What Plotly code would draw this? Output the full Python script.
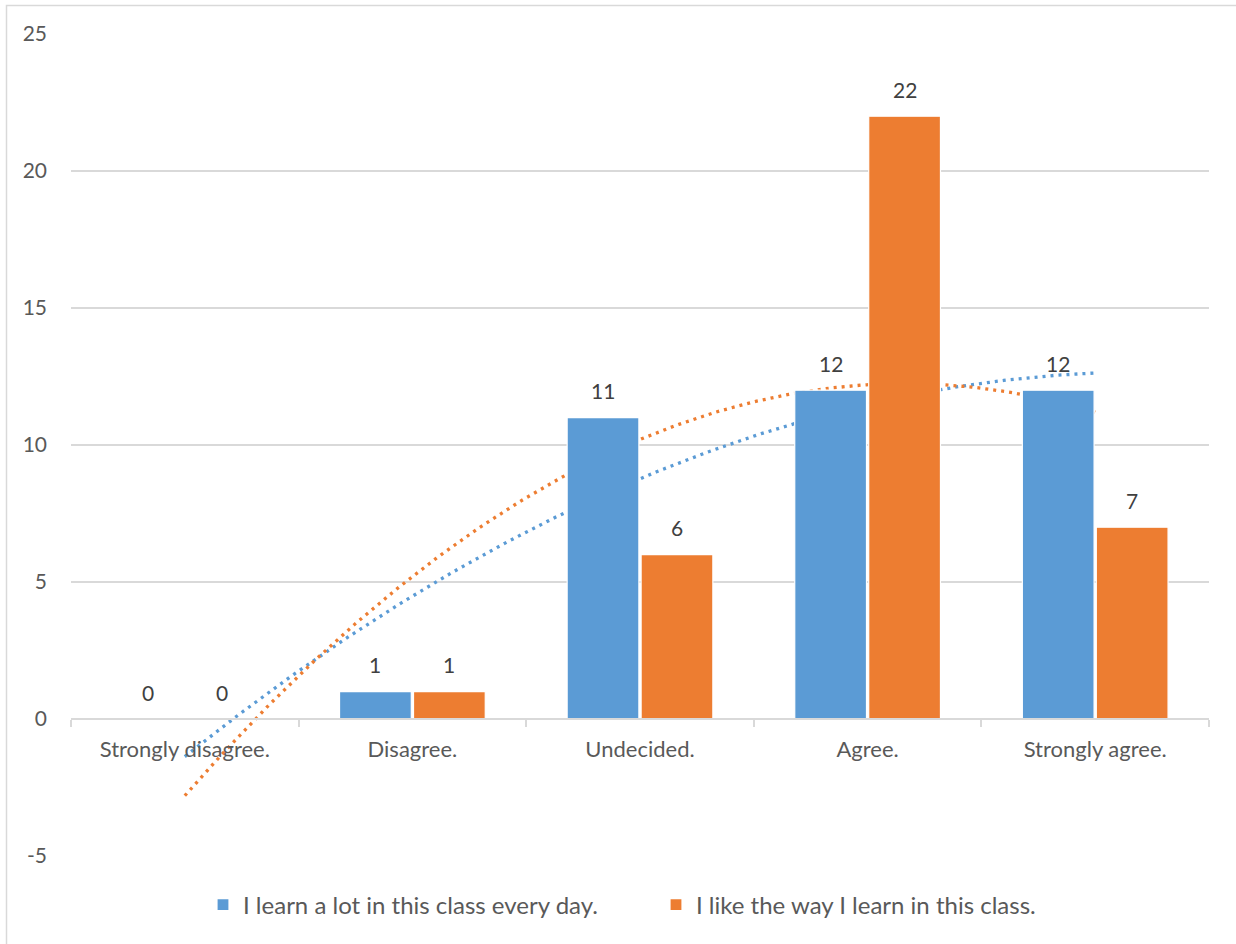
import numpy as np
import plotly.graph_objects as go

categories = ["Strongly disagree.", "Disagree.", "Undecided.", "Agree.", "Strongly agree."]
series_names = ["I learn a lot in this class every day.", "I like the way I learn in this class."]
learn_lot = [0, 1, 11, 12, 12]
like_way = [0, 1, 6, 22, 7]
y_ticks = [-5, 0, 5, 10, 15, 20, 25]
y_tick_text = ["-5", "0", "5", "10", "15", "20", "25"]

colors = ["#5B9BD5", "#ED7D31"]
FONT = "Lato"
W, H = 1236, 944
L, R, T, B = 71, 27, 34, 88
BARGAP = 0.35

xs = list(range(len(categories)))
fig = go.Figure()

# polynomial (order 2) trendlines, drawn underneath the bars
xfine = np.linspace(0, len(categories) - 1, 200)
for vals, c in zip([learn_lot, like_way], colors):
    coef = np.polyfit(xs, vals, 2)
    fig.add_trace(go.Scatter(x=xfine, y=np.polyval(coef, xfine), mode="lines",
                             line=dict(color=c, width=3.3, dash="3px,5px"),
                             showlegend=False, hoverinfo="skip",
                             xaxis="x", yaxis="y"))

for name, vals, c in zip(series_names, [learn_lot, like_way], colors):
    fig.add_trace(go.Bar(x=xs, y=vals, name=name, marker=dict(color=c, line=dict(color="white", width=1.2)),
                         xaxis="x2", yaxis="y2"))

# data labels
off = (1 - BARGAP) / 4
for k, vals in enumerate([learn_lot, like_way]):
    for i, v in enumerate(vals):
        fig.add_annotation(x=i + (-off if k == 0 else off), y=v, text=str(v), showarrow=False,
                           xref="x", yref="y", yshift=27, font=dict(family=FONT, size=21, color="#404040"))

plot_h = H - T - B
plot_w = W - L - R
# chart-area border (only top/left visible in the picture)
fig.add_shape(type="rect", xref="paper", yref="paper",
              x0=(6.5 - L) / plot_w, x1=(W + 5 - L) / plot_w,
              y0=-(B + 10) / plot_h, y1=1 + (T - 5.5) / plot_h,
              line=dict(color="#d9d9d9", width=1.5), fillcolor="rgba(0,0,0,0)", layer="below")

yr = [y_ticks[0], y_ticks[-1]]
fig.update_layout(
    width=W, height=H, margin=dict(l=L, r=R, t=T, b=B),
    paper_bgcolor="white", plot_bgcolor="white",
    font=dict(family=FONT, size=21, color="#595959"),
    barmode="group", bargap=BARGAP, bargroupgap=0.03,
    xaxis=dict(range=[-0.5, len(categories) - 0.5], tickmode="array", tickvals=xs, ticktext=categories,
               ticks="", showgrid=False, zeroline=False, showline=True, linecolor="#d9d9d9", linewidth=1.5,
               anchor="free", position=(0 - yr[0]) / (yr[1] - yr[0]), ticklabelstandoff=11,
               tickfont=dict(family=FONT, size=22, color="#595959"),
               minor=dict(tickmode="array", tickvals=[i - 0.5 for i in range(len(categories) + 1)],
                          ticks="outside", ticklen=7, tickwidth=1.5, tickcolor="#d9d9d9", showgrid=False)),
    yaxis=dict(range=yr, tickmode="array", tickvals=y_ticks, ticktext=y_tick_text, ticks="",
               showgrid=True, gridcolor="#d9d9d9",
               gridwidth=1.5, zeroline=False, showline=False, ticklabelstandoff=23,
               tickfont=dict(family=FONT, size=21, color="#595959")),
    xaxis2=dict(range=[-0.5, len(categories) - 0.5], overlaying="x", visible=False),
    yaxis2=dict(range=yr, overlaying="y", visible=False),
    legend=dict(orientation="h", x=(203 - L) / plot_w, xanchor="left",
                y=-(905 - (H - B)) / plot_h, yanchor="middle", entrywidth=408, entrywidthmode="pixels",
                font=dict(family=FONT, size=24, color="#595959"), traceorder="normal"),
)

fig.write_html("out.html")
